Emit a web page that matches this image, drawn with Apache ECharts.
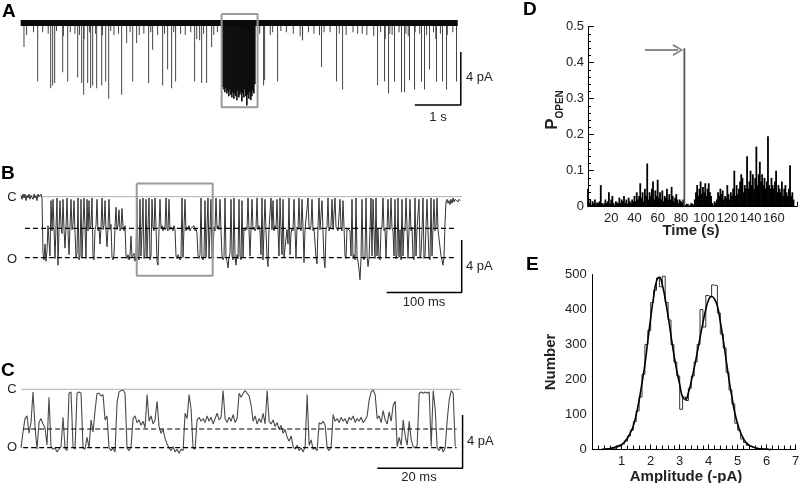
<!DOCTYPE html>
<html><head><meta charset="utf-8">
<script src="https://cdn.jsdelivr.net/npm/echarts@6/dist/echarts.min.js"></script>
<style>html,body{margin:0;padding:0;background:#fff}#c{width:800px;height:483px}</style>
</head><body><div id="c"></div>
<script>
// ================= DATA =================
// Panel A: long recording (time in s, current in pA; closed level = 0)
const aTraceSpan = [0.015, 9.52];
const aClosedLevel = 0;
const aSpikeTimes = [0.093,0.391,0.674,0.717,0.761,0.935,1.043,1.261,1.348,1.391,1.478,1.543,1.587,1.674,1.783,1.870,1.935,2.217,2.326,2.457,2.543,2.804,2.891,3.109,3.217,3.304,3.391,3.804,3.913,3.957,4.065,4.174,5.304,5.326,5.609,6.152,6.565,6.891,7.022,7.783,7.935,8.022,8.152,8.304,8.370,8.478,8.587,8.739,8.804,8.913,9.065,9.196,9.283,9.500];
const aSpikeAmps = [-1.8,-4.4,-4.9,-4.7,-4.5,-3.7,-4.4,-4.1,-4.5,-5.4,-4.5,-4.9,-4.7,-4.9,-4.7,-4.4,-5.7,-5.4,-1.5,-4.4,-1.5,-4.5,-2.0,-4.7,-3.5,-4.9,-4.4,-4.4,-1.3,-4.5,-4.5,-1.8,-4.7,-4.3,-4.4,-1.3,-3.3,-4.4,-5.0,-4.7,-4.4,-5.3,-4.4,-5.2,-5.2,-4.3,-5.0,-4.4,-5.0,-3.5,-4.4,-4.4,-5.0,-4.4];
const aFlickerTimes = [0.15,0.3,0.5,0.62,0.8,0.95,1.1,1.2,1.3,1.4,1.52,1.65,1.8,1.98,2.05,2.15,2.4,2.6,2.7,2.85,3.0,3.15,3.35,3.5,3.6,3.72,3.85,4.0,4.22,4.3,5.22,5.45,5.5,5.68,5.8,5.95,6.1,6.15,6.28,6.4,6.52,6.62,6.75,6.95,7.1,7.25,7.35,7.45,7.55,7.7,7.85,7.95,8.05,8.1,8.25,8.4,8.45,8.6,8.7,8.85,9.0,9.05,9.15,9.3,9.42];
const aFlickerAmps = [-0.9,-0.7,-0.7,-0.8,-0.6,-1.0,-0.7,-0.8,-0.9,-1.2,-0.7,-0.8,-0.9,-0.6,-0.9,-0.8,-0.7,-0.9,-0.8,-0.7,-0.9,-0.8,-0.7,-0.8,-0.9,-0.7,-1.2,-0.8,-0.9,-0.7,-0.8,-0.9,-0.7,-0.6,-0.7,-0.8,-1.0,-1.3,-0.7,-0.8,-0.9,-0.7,-0.7,-0.8,-0.9,-0.7,-0.8,-0.8,-0.9,-1.0,-0.7,-1.2,-0.8,-0.9,-0.7,-0.8,-1.0,-0.7,-0.8,-0.9,-0.7,-1.2,-0.8,-0.9,-0.7];
const aBurstStart = 4.413, aBurstDt = 0.0217;
const aBurstAmps = [-4.8,-5.0,-5.2,-4.9,-5.3,-5.1,-5.5,-5.0,-5.4,-5.6,-5.2,-5.7,-5.3,-5.5,-5.8,-5.1,-5.6,-5.4,-5.2,-5.9,-5.3,-5.6,-5.0,-5.5,-6.2,-5.4,-5.7,-5.2,-5.8,-5.5,-5.1,-5.3,-4.6];
const aBoxT = [4.385, 5.167], aBoxI = [0.68, -6.34];

// Panel B: burst (sample interval in ms, current in pA)
const bDt = 4/3;
const bLevels = [0, -2.4, -4.63];          // C, sub, O
const bTrace = [
0.1,-0.2,0.2,-0.1,0.2,-0.3,0.1,-0.1,0.2,-0.2,
0.1,0,-0.2,0.2,-0.1,0.1,-0.3,0.2,0,-0.1,
0.2,-0.1,-4.3,-4.8,-3.6,-4.9,-4.1,-2.2,-3.4,-4.5,
-0.3,-2.6,-0.2,-2.4,-4.7,-2.3,-0.1,-5.2,-2.5,-0.3,
-2.2,-2.8,-0.2,-2.5,-3.9,-2.3,-0.1,-2.6,-4.4,-2.3,
-0.2,-2.5,-2.1,-0.3,-2.7,-4.6,-4.3,-0.1,-4.8,-4.5,
-0.2,-4.6,-2.4,-0.1,-2.3,-4.7,-0.2,-2.6,-0.3,-2.4,
-2.2,-0.1,-4.5,-4.8,-2.5,-2.2,-0.2,-2.6,-2.3,-3.6,
-2.4,-0.1,-2.5,-2.2,-0.3,-2.6,-3.8,-2.4,-0.2,-2.5,
-2.1,-4.6,-4.8,-4.4,-2.3,-0.8,-2.5,-2.2,-1.0,-2.6,
-2.4,-0.9,-2.3,-2.6,-2.2,-4.5,-4.7,-4.4,-4.8,-4.5,
-3.0,-4.6,-4.7,-4.3,-4.9,-4.5,-0.1,-4.6,-4.8,-0.2,
-4.5,-2.6,-0.1,-4.7,-4.4,-0.2,-4.6,-2.3,-0.1,-4.8,
-4.5,-0.2,-2.4,-2.6,-0.1,-2.3,-4.9,-5.2,-2.5,-0.2,
-2.4,-2.2,-2.6,-2.3,-2.5,-0.1,-2.4,-2.6,-0.2,-2.5,
-2.3,-2.4,-2.6,-2.2,-2.5,-4.5,-4.7,-4.4,-4.6,-4.8,
-4.5,-0.1,-4.6,-2.4,-0.2,-2.6,-2.3,-2.5,-2.2,-2.6,
-2.4,-2.3,-2.5,-2.2,-2.6,-2.4,-2.8,-4.5,-4.7,-4.4,
-0.1,-4.6,-4.8,-4.5,-0.3,-4.6,-2.4,-0.1,-4.7,-2.5,
-0.2,-4.6,-4.4,-2.3,-2.6,-0.1,-2.4,-2.2,-2.5,-0.2,
-2.6,-4.5,-4.8,-4.6,-0.1,-4.5,-4.9,-5.4,-4.6,-4.3,
-0.2,-4.5,-4.8,-0.1,-4.6,-5.2,-4.4,-4.7,-0.2,-4.5,
-4.8,-0.3,-4.6,-2.4,-2.6,-2.3,-2.5,-0.1,-2.6,-4.5,
-2.4,-0.2,-2.5,-2.3,-2.6,-2.4,-0.1,-2.5,-2.2,-2.6,
-4.4,-0.1,-4.8,-2.5,-0.2,-2.6,-4.6,-5.3,-2.4,-2.3,
-0.1,-2.5,-0.3,-2.6,-2.2,-2.4,-0.2,-2.5,-4.5,-0.1,
-2.6,-4.4,-0.2,-4.6,-4.5,-4.7,-2.5,-3.6,-0.1,-4.4,
-2.8,-2.4,-2.6,-0.2,-2.5,-4.7,-2.3,-2.5,-0.1,-2.4,
-2.6,-0.2,-2.3,-5.0,-2.5,-2.4,-2.6,-0.1,-2.3,-2.5,
-2.2,-0.2,-2.6,-2.4,-2.5,-4.6,-5.1,-2.3,-0.1,-2.5,
-2.4,-0.3,-2.6,-4.8,-5.4,-2.5,-2.3,-0.1,-2.6,-2.4,
-2.2,-0.2,-2.5,-2.6,-0.1,-2.3,-2.4,-2.6,-2.5,-0.2,
-2.4,-2.6,-0.3,-2.3,-4.5,-4.7,-2.4,-2.5,-2.3,-2.6,
-4.5,-0.2,-4.7,-4.4,-4.8,-0.1,-4.6,-4.9,-5.5,-6.3,
-4.7,-0.2,-4.5,-4.8,-4.6,-0.1,-4.4,-5.3,-4.7,-2.6,
-0.1,-4.5,-0.2,-2.6,-4.7,-0.1,-4.5,-2.4,-4.6,-4.8,
-2.5,-2.3,-0.1,-2.6,-2.4,-4.6,-2.5,-0.2,-2.3,-2.5,
-0.1,-2.4,-2.6,-4.5,-0.2,-4.7,-4.4,-0.1,-4.6,-2.5,
-4.8,-0.2,-4.5,-2.4,-2.6,-0.1,-2.3,-4.7,-2.5,-0.2,
-2.6,-2.3,-4.6,-4.8,-0.1,-4.5,-2.4,-2.5,-0.2,-4.6,
-4.4,-2.6,-0.1,-4.7,-4.5,-2.3,-0.2,-2.6,-4.6,-4.8,
-0.1,-4.5,-2.4,-0.2,-2.6,-2.3,-0.1,-2.5,-2.4,-2.6,
-4.5,-4.8,-5.2,-4.6,-2.0,-0.4,-0.2,-0.5,-0.3,-0.6,
-0.2,-0.5,-0.1,-0.4,-0.2,-0.3,-0.1,-0.4,-0.2,-0.3];
const bBoxT = [154.3, 255.6], bBoxI = [1.0, -6.0];

// Panel C: expanded segment (sample interval in ms, current in pA)
const cDt = 0.469;
const cLevels = [0, -2.98, -4.38];
const cTrace = [
-4.4,-3.2,-2.2,-2.0,-3.3,-2.5,-0.2,-2.8,-4.5,-2.5,
-2.2,-2.6,-2.9,-4.2,-0.6,-4.3,-4.5,-4.4,-4.7,-4.5,
-4.3,-2.1,-4.4,-4.6,-0.3,-0.2,-4.3,-4.5,-0.3,-0.2,
-0.3,-4.4,-4.5,-3.6,-4.4,-2.3,-3.2,-1.6,-0.3,-0.3,
-0.5,-0.4,-2.3,-2.0,-4.4,-4.6,-4.4,-4.7,-1.0,-0.2,
-0.1,-0.05,-0.3,-4.4,-4.6,-4.3,-2.2,-2.0,-2.5,-2.3,
-2.7,-2.4,-2.9,-0.4,-2.4,-2.0,-2.6,-2.3,-0.9,-2.8,
-3.3,-3.0,-3.7,-4.1,-4.4,-4.6,-4.3,-4.7,-4.5,-4.8,
-4.5,-4.6,-1.8,-2.2,-0.4,-1.5,-4.4,-4.5,-2.3,-2.1,
-2.4,-2.2,-2.5,-2.0,-2.4,-2.1,-2.6,-2.2,-1.8,-2.3,
-2.1,-0.1,-2.2,-2.5,-2.1,-2.4,-1.9,-2.5,-2.2,-0.3,
-0.6,-0.3,-0.1,-0.3,-0.5,-1.2,-2.4,-2.0,-2.6,-2.2,
-2.5,-1.8,-2.6,-0.1,-2.4,-2.6,-2.3,-2.8,-2.5,-3.0,
-2.7,-3.3,-3.0,-3.6,-3.9,-3.5,-4.3,-4.5,-4.2,-4.6,
-4.4,-4.7,-4.3,-0.4,-4.2,-3.8,-4.5,-4.4,-4.6,-2.5,
-2.6,-2.4,-2.7,-4.4,-4.6,-4.3,-1.9,-2.4,-2.2,-2.5,
-2.1,-2.4,-2.2,-2.6,-2.1,-2.3,-2.0,-2.5,-2.2,-2.4,
-2.1,-2.5,-2.3,-2.0,-0.8,-0.2,-0.05,-0.4,-2.2,-2.0,
-2.5,-1.6,-2.3,-2.6,-1.7,-2.4,-1.2,-0.9,-4.3,-3.6,
-4.2,-2.3,-3.5,-4.2,-2.4,-3.8,-4.3,-4.4,-4.2,-0.3,
-0.2,-0.3,-0.2,-0.3,-0.2,-4.3,-0.1,-1.5,-4.4,-4.6,
-4.3,-4.7,-4.4,-2.3,-0.8,-0.1,-0.3,-4.3];

// Panel D: open probability per 1-s bin, starting at t = 0 s
const dPopen = [
0.05,0.01,0.02,0.005,0.015,0.01,0.02,0.008,0.012,0.01,
0.015,0.06,0.01,0.005,0.01,0.02,0.01,0.015,0.04,0.008,
0.02,0.03,0.01,0.005,0.015,0.012,0.01,0.025,0.01,0.02,
0.015,0.03,0.01,0.02,0.008,0.025,0.015,0.01,0.02,0.015,
0.03,0.015,0.04,0.02,0.03,0.065,0.025,0.04,0.015,0.05,
0.03,0.12,0.02,0.04,0.03,0.05,0.07,0.02,0.045,0.03,
0.075,0.025,0.04,0.02,0.045,0.015,0.03,0.025,0.05,0.02,
0.035,0.02,0.055,0.03,0.015,0.025,0.035,0.02,0.01,0.02,
0.015,0.01,0.02,0.44,0.005,0.003,0.008,0.002,0.005,0.01,
0.004,0.006,0.02,0.04,0.06,0.03,0.05,0.07,0.035,0.055,
0.04,0.065,0.03,0.05,0.065,0.04,0.03,0.01,0.005,0.015,
0.01,0.02,0.04,0.03,0.05,0.035,0.045,0.02,0.03,0.025,
0.06,0.035,0.02,0.04,0.03,0.05,0.1,0.03,0.06,0.035,
0.05,0.07,0.09,0.08,0.04,0.06,0.05,0.14,0.05,0.07,
0.1,0.06,0.09,0.05,0.08,0.167,0.06,0.09,0.125,0.07,
0.09,0.06,0.08,0.05,0.07,0.196,0.06,0.05,0.08,0.06,
0.05,0.07,0.1,0.04,0.06,0.05,0.04,0.07,0.03,0.05,
0.06,0.04,0.03,0.05,0.115,0.03,0.04,0.02];
const dArrowT = [49, 77.5], dArrowP = 0.435;
const dXTicks = [20,40,60,80,100,120,140,160];

// Panel E: amplitude histogram (bins of 0.1 pA starting at 0.5) and fit (0.3..6.2, step 0.1)
const eBinStart = 0.5, eBinWidth = 0.1;
const eCounts = [1,2,4,8,10,16,24,38,55,80,110,150,215,300,340,420,455,490,465,495,420,370,300,250,210,115,150,140,175,210,250,300,400,350,440,435,470,468,390,330,290,220,170,130,75,55,30,20,12,8,5,3,2,1,0];
const eFitStart = 0.3, eFitStep = 0.1;
const eFit = [0,1,2,3,5,8,11,14,22,33,48,67,100,140,190,243,310,376,435,481,492,471,430,381,325,271,225,186,150,143,162,195,233,275,319,362,400,428,438,430,410,365,314,257,200,150,105,72,48,31,19,12,8,5,3,2,1,1,0,0];

// ================= CHART =================
const FONT = '"Liberation Sans", Arial, Helvetica, sans-serif';
const chart = echarts.init(document.getElementById('c'), null, {renderer: 'canvas', width: 800, height: 483});

const pairs = (xs, ys) => xs.map((x, i) => [x, ys[i]]);
const sampled = (arr, t0, dt) => arr.map((v, i) => [t0 + i * dt, v]);
const boxPath = (t, v) => [[t[0], v[0]], [t[1], v[0]], [t[1], v[1]], [t[0], v[1]], [t[0], v[0]]];
const lineS = (xi, data, style, extra) => Object.assign({type: 'line', xAxisIndex: xi, yAxisIndex: xi, data, symbol: 'none', silent: true, clip: false, lineStyle: style, animation: false}, extra || {});

const hiddenX = (i, max) => ({type: 'value', gridIndex: i, min: 0, max, show: false, splitLine: {show: false}});
const hiddenY = (i, min, max) => ({type: 'value', gridIndex: i, min, max, show: false, splitLine: {show: false}});
const lblStyle = {fontFamily: FONT, fontSize: 13, color: '#222'};

const scaleBar = (xi, t1, t0, iTop, iBot) => lineS(xi, [[t0, iBot], [t1, iBot], [t1, iTop]], {color: '#000', width: 1.5});
const dashed = (xi, t0, t1, v) => lineS(xi, [[t0, v], [t1, v]], {color: '#000', width: 1.2, type: [5, 3]});

const option = {
  animation: false,
  grid: [
    {left: 20, top: 13.7, width: 446, height: 95.8, containLabel: false, outerBoundsMode: 'none'},
    {left: 21, top: 183.5, width: 441, height: 112, containLabel: false, outerBoundsMode: 'none'},
    {left: 21, top: 382.6, width: 442, height: 88, containLabel: false, outerBoundsMode: 'none'},
    {left: 588, top: 26.7, width: 209, height: 180, containLabel: false, outerBoundsMode: 'none'},
    {left: 592.7, top: 274.5, width: 203, height: 175, containLabel: false, outerBoundsMode: 'none'}
  ],
  xAxis: [
    hiddenX(0, 9.7), hiddenX(1, 588), hiddenX(2, 103.6),
    {type: 'value', gridIndex: 3, min: 0, max: 180, interval: 20,
      axisLine: {show: true, onZero: false, lineStyle: {color: '#000', width: 1}},
      axisTick: {show: true, inside: true, length: 5, lineStyle: {color: '#000'}},
      minorTick: {show: true, splitNumber: 4, length: 3, lineStyle: {color: '#000'}},
      splitLine: {show: false},
      axisLabel: Object.assign({margin: 5, formatter: v => dXTicks.includes(v) ? String(v) : ''}, lblStyle)},
    {type: 'value', gridIndex: 4, min: 0, max: 7, interval: 1,
      axisLine: {show: true, onZero: false, lineStyle: {color: '#000', width: 1}},
      axisTick: {show: true, inside: true, length: 5, lineStyle: {color: '#000'}},
      minorTick: {show: true, splitNumber: 5, length: 4, lineStyle: {color: '#000'}},
      splitLine: {show: false},
      axisLabel: Object.assign({margin: 5, showMinLabel: false, formatter: v => v === 0 ? '' : String(v)}, lblStyle)}
  ],
  yAxis: [
    hiddenY(0, -6.5, 0.7), hiddenY(1, -7.5, 1.0), hiddenY(2, -6.1, 0.5),
    {type: 'value', gridIndex: 3, min: 0, max: 0.5, interval: 0.1,
      axisLine: {show: true, onZero: false, lineStyle: {color: '#000', width: 1}},
      axisTick: {show: true, inside: true, length: 6, lineStyle: {color: '#000'}},
      minorTick: {show: true, splitNumber: 5, length: 3, lineStyle: {color: '#000'}},
      splitLine: {show: false},
      axisLabel: Object.assign({margin: 4, formatter: v => v === 0 ? '0' : v.toFixed(1)}, lblStyle)},
    {type: 'value', gridIndex: 4, min: 0, max: 500, interval: 100,
      axisLine: {show: true, onZero: false, lineStyle: {color: '#000', width: 1}},
      axisTick: {show: false},
      splitLine: {show: false},
      axisLabel: Object.assign({margin: 6}, lblStyle)}
  ],
  series: [
    // ---- A ----
    {type: 'bar', xAxisIndex: 0, yAxisIndex: 0, data: pairs(aSpikeTimes, aSpikeAmps).concat(pairs(aFlickerTimes, aFlickerAmps)),
      barWidth: 1, barGap: '-100%', itemStyle: {color: '#444'}, silent: true, animation: false},
    {type: 'bar', xAxisIndex: 0, yAxisIndex: 0, data: sampled(aBurstAmps, aBurstStart, aBurstDt),
      barWidth: 1.6, barGap: '-100%', itemStyle: {color: '#0a0a0a'}, silent: true, animation: false},
    lineS(0, [[aTraceSpan[0], aClosedLevel], [aTraceSpan[1], aClosedLevel]], {color: '#0a0a0a', width: 6}),
    lineS(0, boxPath(aBoxT, aBoxI), {color: '#9a9a9a', width: 2}),
    scaleBar(0, 9.587, 8.587, -2.17, -6.17),
    // ---- B ----
    lineS(1, [[0, bLevels[0]], [588, bLevels[0]]], {color: '#b0b0b0', width: 1}),
    lineS(1, sampled(bTrace, 0, bDt), {color: '#333', width: 1}),
    dashed(1, 5.3, 581, bLevels[1]),
    dashed(1, 5.3, 581, bLevels[2]),
    lineS(1, boxPath(bBoxT, bBoxI), {color: '#9a9a9a', width: 2}),
    scaleBar(1, 587.6, 487.6, -3.29, -7.28),
    // ---- C ----
    lineS(2, [[0, cLevels[0]], [103, cLevels[0]]], {color: '#b0b0b0', width: 1}),
    lineS(2, sampled(cTrace, 0, cDt), {color: '#4a4a4a', width: 1.1}),
    dashed(2, 0.5, 102.1, cLevels[1]),
    dashed(2, 0.5, 102.1, cLevels[2]),
    scaleBar(2, 103.5, 83.5, -1.93, -5.93),
    // ---- D ----
    {type: 'bar', xAxisIndex: 3, yAxisIndex: 3, data: dPopen.map((v, i) => [i, v]), barWidth: 1.8, barGap: '-100%',
      itemStyle: {color: p => p.value[1] > 0.3 ? '#555' : '#000'}, silent: true, animation: false,
      markLine: {silent: true, animation: false, symbol: ['none', 'path://M5,0 L10,10 L8.4,10.9 L5,3.2 L1.6,10.9 L0,10 Z'], symbolSize: [12, 11],
        label: {show: false}, lineStyle: {color: '#8a8a8a', width: 2, type: 'solid'},
        data: [[{coord: [dArrowT[0], dArrowP]}, {coord: [dArrowT[1], dArrowP]}]]}},
    // ---- E ----
    lineS(4, eCounts.map((v, i) => [eBinStart + i * eBinWidth, v]), {color: '#333', width: 1}, {step: 'end'}),
    lineS(4, eFit.map((v, i) => [eFitStart + i * eFitStep, v]), {color: '#000', width: 1.6}, {smooth: true})
  ],
  graphic: [
    ...[['A', 2, 2], ['B', 1, 164], ['C', 1, 361], ['D', 523, 0], ['E', 526, 255]].map(([t, x, y]) => ({
      type: 'text', x, y, silent: true,
      style: {text: t, fontFamily: FONT, fontSize: 19, fontWeight: 'bold', fill: '#000', align: 'left', verticalAlign: 'top', textAlign: 'left', textVerticalAlign: 'top'}})),
    ...[['4 pA', 466, 77, 'left'], ['1 s', 438, 117, 'center'], ['C', 12, 197, 'center'], ['O', 12, 259, 'center'],
        ['4 pA', 466, 266, 'left'], ['100 ms', 424, 302, 'center'], ['C', 12, 389, 'center'], ['O', 12, 447, 'center'],
        ['4 pA', 467, 441, 'left'], ['20 ms', 419, 477, 'center']].map(([t, x, y, a]) => ({
      type: 'text', x, y, silent: true,
      style: {text: t, fontFamily: FONT, fontSize: 13, fill: '#222', align: a, verticalAlign: 'middle', textAlign: a, textVerticalAlign: 'middle'}})),
    {type: 'text', x: 691, y: 231, silent: true,
      style: {text: 'Time (s)', fontFamily: FONT, fontSize: 15, fontWeight: 'bold', fill: '#222', align: 'center', verticalAlign: 'middle', textAlign: 'center', textVerticalAlign: 'middle'}},
    {type: 'text', x: 686, y: 477, silent: true,
      style: {text: 'Amplitude (-pA)', fontFamily: FONT, fontSize: 15, fontWeight: 'bold', fill: '#222', align: 'center', verticalAlign: 'middle', textAlign: 'center', textVerticalAlign: 'middle'}},
    {type: 'text', x: 551, y: 362, rotation: Math.PI / 2, silent: true,
      style: {text: 'Number', fontFamily: FONT, fontSize: 15, fontWeight: 'bold', fill: '#222', align: 'center', verticalAlign: 'middle', textAlign: 'center', textVerticalAlign: 'middle'}},
    {type: 'text', x: 551, y: 110, rotation: Math.PI / 2, silent: true,
      style: {text: '{p|P}{s|OPEN}', fontFamily: FONT, fill: '#222', align: 'center', verticalAlign: 'middle', textAlign: 'center', textVerticalAlign: 'middle',
        rich: {p: {fontFamily: FONT, fontSize: 17, fontWeight: 'bold', fill: '#222', lineHeight: 20, verticalAlign: 'bottom'},
               s: {fontFamily: FONT, fontSize: 10, fontWeight: 'bold', fill: '#222', lineHeight: 20, verticalAlign: 'bottom', padding: [0, 0, -4, 0]}}}}
  ]
};
chart.setOption(option);
</script>
</body></html>
